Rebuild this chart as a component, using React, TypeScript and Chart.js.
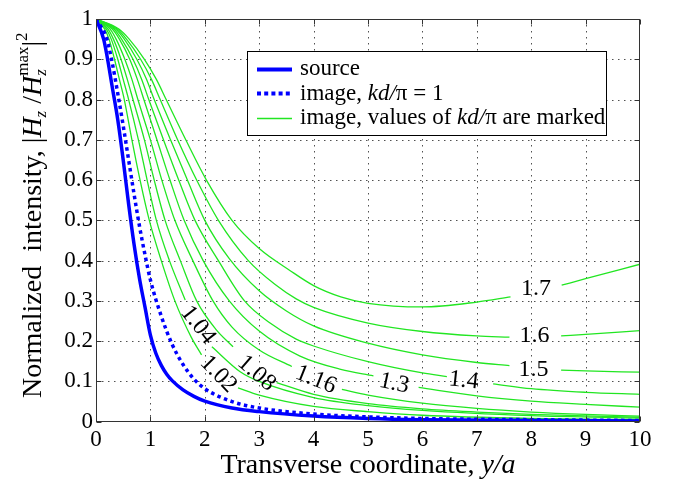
import { useEffect, useRef } from 'react';
import { Chart, registerables } from 'chart.js';

Chart.register(...registerables);

const FONT = '"Liberation Serif", "Times New Roman", Times, serif';
const BLUE = '#0000ff';
const GREEN = '#22e622';

// axis ticks
const X_TICKS = [0, 1, 2, 3, 4, 5, 6, 7, 8, 9, 10];
const Y_TICKS = [0, 0.1, 0.2, 0.3, 0.4, 0.5, 0.6, 0.7, 0.8, 0.9, 1];

// source (solid blue)
const SOURCE_X = [0, 0.14, 0.2, 0.3, 0.4, 0.5, 0.6, 0.7, 0.8, 0.9, 1.0, 1.1, 1.2, 1.3, 1.4, 1.6, 1.8, 2.0, 2.5, 3, 4, 5, 6, 8, 10];
const SOURCE_Y = [1, 0.95, 0.91, 0.83, 0.75, 0.65, 0.54, 0.44, 0.355, 0.285, 0.215, 0.17, 0.14, 0.118, 0.102, 0.079, 0.063, 0.051, 0.034, 0.025, 0.014, 0.008, 0.005, 0.003, 0.002];

// image, kd/pi = 1 (dotted blue)
const IMAGE1_X = [0, 0.2, 0.3, 0.4, 0.5, 0.6, 0.7, 0.8, 0.9, 1.0, 1.2, 1.4, 1.6, 1.8, 2.0, 2.5, 3, 4, 5, 6, 8, 10];
const IMAGE1_Y = [1, 0.95, 0.89, 0.815, 0.735, 0.65, 0.565, 0.485, 0.415, 0.352, 0.262, 0.192, 0.142, 0.106, 0.082, 0.05, 0.034, 0.019, 0.012, 0.008, 0.005, 0.003];

// image curves (green), null = gap where the value label sits
const G102_X = [0, 0.16, 0.24, 0.34, 0.43, 0.52, 0.66, 0.81, 0.98, 1.2, 1.45, 1.75, 1.94, 2.3, 2.61, 3, 4, 5, 6, 8, 10];
const G102_Y = [1, 0.975, 0.95, 0.9, 0.85, 0.8, 0.7, 0.6, 0.5, 0.4, 0.3, 0.21, 0.166, null, 0.084, 0.066, 0.038, 0.025, 0.016, 0.008, 0.005];

const G104_X = [0, 0.19, 0.28, 0.40, 0.50, 0.60, 0.78, 0.94, 1.11, 1.35, 1.64, 1.9, 2.13, 2.65, 3, 4, 5, 6, 8, 10];
const G104_Y = [1, 0.975, 0.95, 0.9, 0.85, 0.8, 0.7, 0.6, 0.5, 0.4, 0.302, null, 0.186, 0.124, 0.1, 0.06, 0.04, 0.028, 0.015, 0.009];

const G108_X = [0, 0.22, 0.32, 0.46, 0.575, 0.68, 0.89, 1.07, 1.27, 1.55, 1.85, 2.2, 2.52, 2.9, 3.32, 4, 5, 6, 7, 8, 10];
const G108_Y = [1, 0.975, 0.95, 0.9, 0.85, 0.8, 0.7, 0.6, 0.5, 0.4, 0.3, 0.23, 0.186, null, 0.097, 0.068, 0.045, 0.032, 0.024, 0.018, 0.011];

const G116_X = [0, 0.26, 0.37, 0.53, 0.66, 0.77, 1.0, 1.21, 1.45, 1.78, 2.15, 2.5, 3.0, 3.6, 4.1, 4.52, 5, 6, 7, 8, 9, 10];
const G116_Y = [1, 0.975, 0.95, 0.9, 0.85, 0.8, 0.7, 0.6, 0.5, 0.4, 0.3, 0.235, 0.178, 0.137, null, 0.08, 0.066, 0.046, 0.033, 0.024, 0.018, 0.014];

const G130_X = [0, 0.30, 0.43, 0.62, 0.76, 0.88, 1.12, 1.36, 1.62, 1.97, 2.45, 3.0, 3.75, 4.5, 5.1, 5.5, 5.93, 7, 8, 9, 10];
const G130_Y = [1, 0.975, 0.95, 0.9, 0.85, 0.8, 0.7, 0.6, 0.5, 0.4, 0.3, 0.225, 0.163, 0.13, 0.114, null, 0.085, 0.064, 0.051, 0.043, 0.036];

const G140_X = [0, 0.33, 0.47, 0.68, 0.84, 0.97, 1.24, 1.52, 1.82, 2.25, 2.73, 3.2, 3.68, 4, 5, 6, 6.45, 6.9, 7.3, 8, 9, 10];
const G140_Y = [1, 0.975, 0.95, 0.9, 0.85, 0.8, 0.7, 0.6, 0.5, 0.4, 0.3, 0.245, 0.205, 0.188, 0.149, 0.121, 0.112, null, 0.094, 0.082, 0.073, 0.068];

const G150_X = [0, 0.36, 0.52, 0.75, 0.93, 1.07, 1.37, 1.68, 2.0, 2.45, 3.0, 3.5, 4, 5, 6, 7, 7.6, 8.1, 8.55, 9, 10];
const G150_Y = [1, 0.975, 0.95, 0.9, 0.85, 0.8, 0.7, 0.6, 0.5, 0.405, 0.325, 0.275, 0.238, 0.195, 0.166, 0.147, 0.139, null, 0.128, 0.126, 0.123];

const G160_X = [0, 0.39, 0.56, 0.82, 1.02, 1.18, 1.5, 1.85, 2.25, 2.8, 3.3, 3.68, 4, 5, 6, 7, 7.6, 8.1, 8.55, 9, 10];
const G160_Y = [1, 0.975, 0.95, 0.9, 0.85, 0.8, 0.7, 0.6, 0.5, 0.4, 0.34, 0.305, 0.284, 0.245, 0.224, 0.213, 0.21, null, 0.213, 0.217, 0.226];

const G170_X = [0, 0.42, 0.61, 0.89, 1.11, 1.29, 1.65, 2.03, 2.5, 3.0, 3.57, 4, 4.5, 5, 6, 7, 7.62, 8.1, 8.56, 9, 10];
const G170_Y = [1, 0.975, 0.95, 0.9, 0.85, 0.8, 0.7, 0.6, 0.5, 0.43, 0.375, 0.338, 0.31, 0.294, 0.285, 0.297, 0.31, null, 0.339, 0.355, 0.391];

// contour value labels (kd/pi)
const CONTOUR_TEXT = ['1.02', '1.04', '1.08', '1.16', '1.3', '1.4', '1.5', '1.6', '1.7'];
const CONTOUR_X = [2.25, 1.875, 2.95, 4.04, 5.48, 6.76, 8.04, 8.06, 8.09];
const CONTOUR_Y = [0.118, 0.24, 0.12, 0.104, 0.095, 0.102, 0.13, 0.213, 0.33];
const CONTOUR_ANGLE = [46, 52, 41, 22, 12, 6, 0, 0, 0];

type Seg = { t: string; font: string; dy?: number; stack?: { t: string; font: string; dy: number }[] };

function richText(ctx: CanvasRenderingContext2D, segs: Seg[], x: number, y: number, draw: boolean): number {
  let cx = x;
  for (const s of segs) {
    if (s.stack) {
      let w = 0;
      for (const p of s.stack) {
        ctx.font = p.font;
        if (draw) ctx.fillText(p.t, cx, y + p.dy);
        w = Math.max(w, ctx.measureText(p.t).width);
      }
      cx += w;
      continue;
    }
    ctx.font = s.font;
    if (draw) ctx.fillText(s.t, cx, y + (s.dy || 0));
    cx += ctx.measureText(s.t).width;
  }
  return cx - x;
}

const N = (size: number) => `${size}px ${FONT}`;
const I = (size: number) => `italic ${size}px ${FONT}`;

const decorPlugin = {
  id: 'decor',
  beforeDatasetsDraw(chart: any) {
    const { ctx, chartArea: a, scales } = chart;
    const xs = scales.x;
    const ys = scales.y;
    ctx.save();
    ctx.strokeStyle = 'rgba(50,50,50,0.85)';
    ctx.lineWidth = 1;
    ctx.setLineDash([1.5, 4.5]);
    ctx.beginPath();
    for (const v of X_TICKS) {
      if (v === X_TICKS[0] || v === X_TICKS[X_TICKS.length - 1]) continue;
      const px = Math.round(xs.getPixelForValue(v)) + 0.5;
      ctx.moveTo(px, a.top);
      ctx.lineTo(px, a.bottom);
    }
    for (const v of Y_TICKS) {
      if (v === Y_TICKS[0] || v === Y_TICKS[Y_TICKS.length - 1]) continue;
      const py = Math.round(ys.getPixelForValue(v)) + 0.5;
      ctx.moveTo(a.left, py);
      ctx.lineTo(a.right, py);
    }
    ctx.stroke();
    ctx.restore();
  },
  afterDatasetsDraw(chart: any) {
    const { ctx, chartArea: a, scales } = chart;
    const xs = scales.x;
    const ys = scales.y;
    ctx.save();
    ctx.setLineDash([]);
    // frame
    ctx.strokeStyle = '#333';
    ctx.lineWidth = 1;
    const L = Math.round(a.left) + 0.5;
    const R = Math.round(a.right) - 0.5;
    const T = Math.round(a.top) + 0.5;
    const B = Math.round(a.bottom) - 0.5;
    ctx.strokeRect(L, T, R - L, B - T);
    // inward ticks
    ctx.beginPath();
    for (const v of X_TICKS) {
      const px = Math.round(xs.getPixelForValue(v)) + 0.5;
      ctx.moveTo(px, B); ctx.lineTo(px, B - 5);
      ctx.moveTo(px, T); ctx.lineTo(px, T + 5);
    }
    for (const v of Y_TICKS) {
      const py = Math.round(ys.getPixelForValue(v)) + 0.5;
      ctx.moveTo(L, py); ctx.lineTo(L + 5, py);
      ctx.moveTo(R, py); ctx.lineTo(R - 5, py);
    }
    ctx.stroke();

    // contour labels
    ctx.fillStyle = '#000';
    ctx.font = N(24);
    ctx.textAlign = 'center';
    ctx.textBaseline = 'middle';
    CONTOUR_TEXT.forEach((t, i) => {
      const px = xs.getPixelForValue(CONTOUR_X[i]);
      const py = ys.getPixelForValue(CONTOUR_Y[i]);
      ctx.save();
      ctx.translate(px, py);
      ctx.rotate((CONTOUR_ANGLE[i] * Math.PI) / 180);
      ctx.fillText(t, 0, 0);
      ctx.restore();
    });

    // legend
    const bx = 247.5, by = 51.5, bw = 359, bh = 84;
    ctx.fillStyle = '#fff';
    ctx.fillRect(bx, by, bw, bh);
    ctx.strokeStyle = '#000';
    ctx.lineWidth = 1;
    ctx.strokeRect(bx, by, bw, bh);
    const lx0 = 257, lx1 = 292;
    const rows = [69.5, 93.5, 118.5];
    ctx.strokeStyle = BLUE;
    ctx.lineWidth = 4;
    ctx.beginPath(); ctx.moveTo(lx0, rows[0]); ctx.lineTo(lx1, rows[0]); ctx.stroke();
    ctx.setLineDash([4, 3.2]);
    ctx.beginPath(); ctx.moveTo(lx0, rows[1]); ctx.lineTo(lx1, rows[1]); ctx.stroke();
    ctx.setLineDash([]);
    ctx.strokeStyle = GREEN;
    ctx.lineWidth = 1.4;
    ctx.beginPath(); ctx.moveTo(lx0, rows[2]); ctx.lineTo(lx1, rows[2]); ctx.stroke();

    ctx.fillStyle = '#000';
    ctx.textAlign = 'left';
    ctx.textBaseline = 'alphabetic';
    const tx = 300;
    richText(ctx, [{ t: 'source', font: N(23) }], tx, 75, true);
    richText(ctx, [
      { t: 'image, ', font: N(23) },
      { t: 'kd/', font: I(23) },
      { t: 'π = 1', font: N(23) },
    ], tx, 99.5, true);
    richText(ctx, [
      { t: 'image, values of ', font: N(23) },
      { t: 'kd/', font: I(23) },
      { t: 'π are marked', font: N(23) },
    ], tx, 124, true);

    // x title
    const xSegs: Seg[] = [
      { t: 'Transverse coordinate, ', font: N(28) },
      { t: 'y/a', font: I(28) },
    ];
    const xw = richText(ctx, xSegs, 0, 0, false);
    richText(ctx, xSegs, (a.left + a.right) / 2 - xw / 2, 473, true);

    // y title
    const ySegs: Seg[] = [
      { t: 'Normalized  intensity, |', font: N(28) },
      { t: 'H', font: I(28) },
      { t: 'z', font: I(17), dy: 5 },
      { t: ' /', font: N(28) },
      { t: 'H', font: I(28) },
      { stack: [{ t: 'max', font: N(17), dy: -13 }, { t: 'z', font: I(17), dy: 5 }], t: '', font: N(17) },
      { t: '|', font: N(28) },
      { t: '2', font: N(17), dy: -14 },
    ];
    ctx.save();
    ctx.translate(41, 398);
    ctx.rotate(-Math.PI / 2);
    richText(ctx, ySegs, 0, 0, true);
    ctx.restore();

    ctx.restore();
  },
};

function pts(xs: number[], ys: (number | null)[]) {
  return xs.map((x, i) => ({ x, y: ys[i] }));
}

const GREEN_SERIES: [number[], (number | null)[]][] = [
  [G102_X, G102_Y],
  [G104_X, G104_Y],
  [G108_X, G108_Y],
  [G116_X, G116_Y],
  [G130_X, G130_Y],
  [G140_X, G140_Y],
  [G150_X, G150_Y],
  [G160_X, G160_Y],
  [G170_X, G170_Y],
];

export default function App() {
  const ref = useRef<HTMLCanvasElement>(null);
  useEffect(() => {
    const lineBase = {
      pointRadius: 0,
      pointHoverRadius: 0,
      cubicInterpolationMode: 'monotone' as const,
      spanGaps: false,
      fill: false,
    };
    const chart = new Chart(ref.current as HTMLCanvasElement, {
      type: 'line',
      data: {
        datasets: [
          { ...lineBase, label: 'source', data: pts(SOURCE_X, SOURCE_Y), borderColor: BLUE, borderWidth: 3.5 },
          { ...lineBase, label: 'image, kd/π = 1', data: pts(IMAGE1_X, IMAGE1_Y), borderColor: BLUE, borderWidth: 3.5, borderDash: [3.5, 3.5] },
          ...GREEN_SERIES.map(([xs, ys], i) => ({
            ...lineBase,
            label: 'kd/π = ' + CONTOUR_TEXT[i],
            data: pts(xs, ys),
            borderColor: GREEN,
            borderWidth: 1.3,
          })),
        ] as any,
      },
      options: {
        animation: false,
        responsive: true,
        maintainAspectRatio: false,
        layout: { padding: { left: 0, top: 19, right: 38, bottom: 0 } },
        plugins: { legend: { display: false }, tooltip: { enabled: false } },
        events: [],
        scales: {
          x: {
            type: 'linear',
            min: 0,
            max: 10,
            afterBuildTicks: (s: any) => { s.ticks = X_TICKS.map((v) => ({ value: v })); },
            afterFit: (s: any) => { s.height = 58.3; },
            ticks: { color: '#000', font: { family: FONT, size: 23 }, padding: 4, callback: (v: any) => String(v) },
            grid: { display: false, drawTicks: false },
            border: { display: false },
          },
          y: {
            type: 'linear',
            min: 0,
            max: 1,
            afterBuildTicks: (s: any) => { s.ticks = Y_TICKS.map((v) => ({ value: v })); },
            afterFit: (s: any) => { s.width = 96; },
            ticks: {
              color: '#000',
              font: { family: FONT, size: 23 },
              padding: 3,
              callback: (v: any) => (v === 0 ? '0' : v === 1 ? '1' : Number(v).toFixed(1)),
            },
            grid: { display: false, drawTicks: false },
            border: { display: false },
          },
        },
      } as any,
      plugins: [decorPlugin],
    });
    return () => chart.destroy();
  }, []);
  return (
    <div style={{ position: 'fixed', left: 0, top: 0, width: 678, height: 480, background: '#fff' }}>
      <canvas ref={ref} />
    </div>
  );
}
